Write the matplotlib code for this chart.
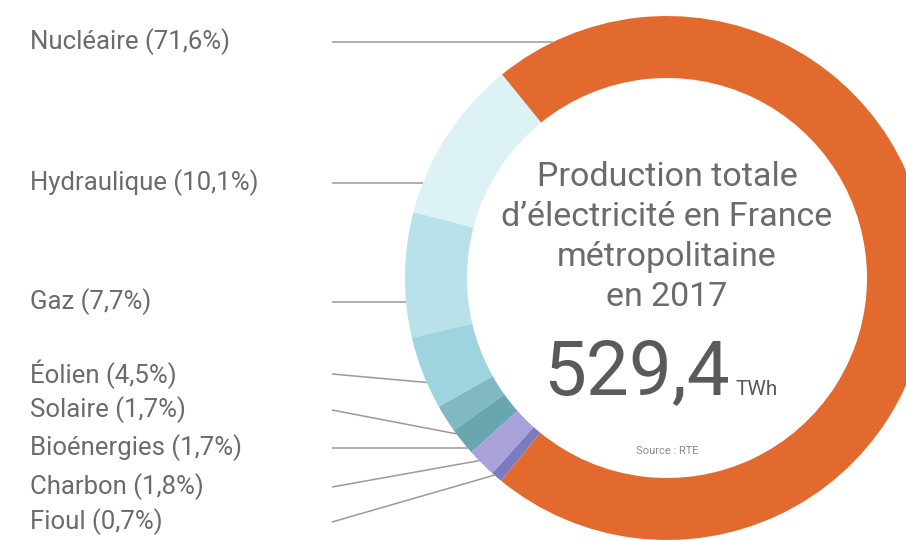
import numpy as np
import matplotlib.pyplot as plt

plt.rcParams['font.family'] = ['Roboto', 'DejaVu Sans']

# production 2017 by source (%), in drawing order counterclockwise from the top-left
sources = ['Hydraulique', 'Gaz', 'Éolien', 'Solaire', 'Bioénergies', 'Charbon', 'Fioul', 'Nucléaire']
shares = [10.1, 7.7, 4.5, 1.7, 1.7, 1.8, 0.7, 71.6]
colors = ['#ddf2f5', '#b9e1ea', '#9dd4e0', '#80b9c2', '#6aa6b0', '#a9a2da', '#7b7bbf', '#e36a2e']

# left column order for the labels
label_order = ['Nucléaire', 'Hydraulique', 'Gaz', 'Éolien', 'Solaire', 'Bioénergies', 'Charbon', 'Fioul']
total_twh = '529,4'

W, H = 906, 540
fig = plt.figure(figsize=(W / 100, H / 100), dpi=100)
ax = fig.add_axes([0, 0, 1, 1])

cx, cy = 667, H - 278
r_out, ring = 262, 62
start = 129

ax.pie(shares, colors=colors, center=(cx, cy), radius=r_out, startangle=start,
       counterclock=True, wedgeprops=dict(width=ring, linewidth=0))
ax.set_xlim(0, W)
ax.set_ylim(0, H)
ax.set_aspect('equal')
ax.axis('off')

label_y = [42, 183, 302, 374, 410, 448, 487, 522]
# where each leader meets the ring (degrees); None = straight horizontal
leader_ang = [None, None, None, 203.5, 216.5, None, 224.2, 228.8]
for name, ypix, ang in zip(label_order, label_y, leader_ang):
    y = H - ypix
    pct = shares[sources.index(name)]
    ax.text(30, y, f"{name} ({str(pct).replace('.', ',')}%)", fontsize=18.5,
            color='#6b6b6b', va='center', ha='left')
    if ang is None:
        xe = cx - np.sqrt(r_out ** 2 - (y - cy) ** 2)
        ye = y
    else:
        a = np.deg2rad(ang)
        xe = cx + r_out * np.cos(a)
        ye = cy + r_out * np.sin(a)
    ax.plot([332, xe], [y, ye], color='#9a9a9a', lw=1.1, solid_capstyle='butt')

# centre text
title_lines = ['Production totale', 'd’électricité en France', 'métropolitaine', 'en 2017']
for i, line in enumerate(title_lines):
    ax.text(cx, H - (177 + 40 * i), line, fontsize=24.5,
            color='#6b6b6b', ha='center', va='center')

ax.text(730, H - 395, total_twh, fontsize=55, color='#5a5a5a', ha='right', va='baseline')
ax.text(736, H - 395, 'TWh', fontsize=15, color='#5a5a5a', ha='left', va='baseline')
ax.text(cx, H - 451, 'Source : RTE', fontsize=8, color='#8a8a8a', ha='center', va='center')

fig.savefig('out.png', dpi=100)
